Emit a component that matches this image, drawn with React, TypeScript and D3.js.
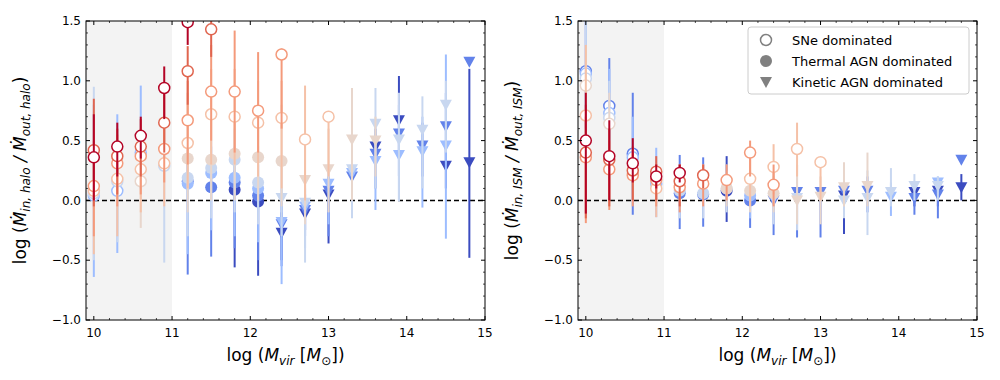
import React from "react";
import * as d3 from "d3";

// colour of each series, blue (index 0) to red (index 8), coolwarm-like
const seriesColors = ["#3b4cc0", "#6282ea", "#9dbdff", "#c8d7f0", "#e8d6cc", "#f5c1a7", "#f49a7b", "#e0654f", "#b40426"];

// [series, log Mvir, y, err low, err high, regime]  o = SNe, f = thermal AGN, v = kinetic AGN
type Pt = [number, number, number, number, number, string];

const haloPoints: Pt[] = [
  [5, 10.0, 0.08, -0.45, 0.45, "o"], [3, 10.0, 0.06, -0.5, 0.95, "o"], [2, 10.0, 0.04, -0.64, 0.8, "o"],
  [6, 10.0, 0.12, -0.3, 0.5, "o"], [7, 10.0, 0.42, -0.05, 0.85, "o"], [8, 10.0, 0.36, 0.0, 0.72, "o"],
  [2, 10.3, 0.08, -0.44, 0.72, "o"], [3, 10.3, 0.16, -0.35, 0.6, "o"], [5, 10.3, 0.18, -0.3, 0.5, "o"],
  [6, 10.3, 0.31, -0.05, 0.55, "o"], [7, 10.3, 0.37, 0.05, 0.6, "o"], [8, 10.3, 0.45, 0.2, 0.65, "o"],
  [2, 10.6, 0.4, 0.1, 0.96, "o"], [4, 10.6, 0.16, -0.23, 0.55, "o"], [5, 10.6, 0.26, -0.1, 0.5, "o"],
  [6, 10.6, 0.37, 0.05, 0.6, "o"], [7, 10.6, 0.45, 0.2, 0.68, "o"], [8, 10.6, 0.54, 0.35, 0.7, "o"],
  [3, 10.9, 0.29, -0.52, 0.6, "o"], [5, 10.9, 0.31, -0.05, 0.6, "o"], [6, 10.9, 0.43, 0.15, 0.7, "o"],
  [7, 10.9, 0.65, 0.4, 0.9, "o"], [8, 10.9, 0.94, 0.68, 1.12, "o"],
  [1, 11.2, 0.16, -0.62, 0.3, "f"], [2, 11.2, 0.14, -0.45, 0.4, "f"], [3, 11.2, 0.19, -0.3, 0.5, "f"],
  [4, 11.2, 0.35, -0.1, 0.8, "f"], [5, 11.2, 0.48, 0.1, 0.9, "o"], [6, 11.2, 0.67, 0.3, 1.0, "o"],
  [7, 11.2, 1.08, 0.8, 1.29, "o"], [8, 11.2, 1.49, 1.3, 1.6, "o"],
  [1, 11.5, 0.11, -0.47, 0.3, "f"], [2, 11.5, 0.23, -0.25, 0.45, "f"], [3, 11.5, 0.27, -0.15, 0.5, "f"],
  [4, 11.5, 0.34, 0.0, 0.7, "f"], [5, 11.5, 0.72, 0.3, 1.1, "o"], [6, 11.5, 0.91, 0.5, 1.3, "o"],
  [7, 11.5, 1.43, 1.2, 1.6, "o"],
  [0, 11.8, 0.09, -0.56, 0.25, "f"], [1, 11.8, 0.15, -0.4, 0.35, "f"], [2, 11.8, 0.19, -0.3, 0.45, "f"],
  [3, 11.8, 0.34, -0.1, 0.6, "f"], [4, 11.8, 0.39, 0.0, 0.7, "f"], [5, 11.8, 0.7, 0.3, 1.1, "o"],
  [6, 11.8, 0.91, 0.4, 1.42, "o"],
  [0, 12.1, -0.01, -0.63, 0.1, "f"], [1, 12.1, 0.04, -0.5, 0.2, "f"], [2, 12.1, 0.1, -0.35, 0.3, "f"],
  [3, 12.1, 0.15, -0.2, 0.45, "f"], [4, 12.1, 0.36, 0.0, 0.7, "f"], [5, 12.1, 0.65, 0.2, 1.0, "o"],
  [6, 12.1, 0.75, 0.4, 1.24, "o"],
  [0, 12.4, -0.27, -0.5, -0.1, "v"], [1, 12.4, -0.2, -0.55, 0.05, "v"], [2, 12.4, -0.18, -0.7, 0.1, "v"],
  [3, 12.4, 0.02, -0.3, 0.3, "v"], [4, 12.4, 0.33, -0.05, 0.8, "f"], [5, 12.4, 0.69, 0.1, 1.0, "o"],
  [6, 12.4, 1.22, 0.6, 1.27, "o"],
  [0, 12.7, -0.11, -0.25, 0.0, "v"], [1, 12.7, -0.08, -0.3, 0.05, "v"], [2, 12.7, -0.05, -0.4, 0.1, "v"],
  [3, 12.7, -0.02, -0.52, 0.2, "v"], [4, 12.7, 0.17, -0.2, 0.5, "v"], [5, 12.7, 0.51, 0.0, 0.96, "o"],
  [0, 13.0, 0.05, -0.36, 0.15, "v"], [1, 13.0, 0.08, -0.3, 0.2, "v"], [2, 13.0, 0.14, -0.2, 0.3, "v"],
  [4, 13.0, 0.26, -0.1, 0.6, "v"], [5, 13.0, 0.7, 0.2, 0.72, "o"],
  [1, 13.3, 0.2, -0.12, 0.35, "v"], [2, 13.3, 0.23, -0.1, 0.4, "v"], [3, 13.3, 0.26, -0.15, 0.5, "v"],
  [4, 13.3, 0.51, 0.0, 0.94, "v"],
  [0, 13.6, 0.45, 0.3, 0.6, "v"], [1, 13.6, 0.39, 0.1, 0.55, "v"], [2, 13.6, 0.33, -0.08, 0.6, "v"],
  [3, 13.6, 0.64, 0.1, 0.94, "v"], [4, 13.6, 0.5, 0.2, 0.7, "v"],
  [0, 13.9, 0.67, 0.4, 1.04, "v"], [1, 13.9, 0.56, 0.2, 0.8, "v"], [2, 13.9, 0.38, 0.0, 0.7, "v"],
  [3, 13.9, 0.51, -0.01, 0.9, "v"],
  [1, 14.2, 0.46, 0.2, 0.65, "v"], [2, 14.2, 0.41, -0.06, 0.7, "v"], [3, 14.2, 0.59, 0.1, 0.87, "v"],
  [0, 14.5, 0.29, 0.1, 0.5, "v"], [1, 14.5, 0.62, 0.3, 0.9, "v"], [2, 14.5, 0.46, -0.32, 1.22, "v"],
  [3, 14.5, 0.8, 0.4, 1.0, "v"],
  [0, 14.8, 0.32, -0.48, 1.1, "v"], [1, 14.8, 1.16, 1.16, 1.16, "v"],
];

const ismPoints: Pt[] = [
  [1, 10.0, 1.08, 0.6, 1.5, "o"], [2, 10.0, 1.06, 0.5, 1.5, "o"], [3, 10.0, 1.02, 0.4, 1.6, "o"],
  [4, 10.0, 0.96, 0.3, 1.3, "o"], [5, 10.0, 0.71, 0.0, 1.3, "o"], [6, 10.0, 0.36, -0.19, 0.7, "o"],
  [7, 10.0, 0.4, -0.15, 0.8, "o"], [8, 10.0, 0.5, -0.11, 0.9, "o"],
  [1, 10.3, 0.79, 0.5, 1.19, "o"], [2, 10.3, 0.73, 0.4, 1.1, "o"], [3, 10.3, 0.69, 0.3, 1.0, "o"],
  [4, 10.3, 0.64, 0.3, 0.9, "o"], [6, 10.3, 0.26, -0.08, 0.5, "o"], [7, 10.3, 0.34, -0.05, 0.6, "o"],
  [8, 10.3, 0.37, 0.0, 0.67, "o"],
  [1, 10.6, 0.39, -0.12, 0.9, "o"], [2, 10.6, 0.36, 0.0, 0.7, "o"], [6, 10.6, 0.21, -0.05, 0.4, "o"],
  [7, 10.6, 0.25, 0.0, 0.45, "o"], [8, 10.6, 0.31, 0.15, 0.52, "o"],
  [2, 10.9, 0.14, -0.14, 0.44, "o"], [5, 10.9, 0.1, -0.14, 0.3, "o"], [6, 10.9, 0.17, -0.05, 0.3, "o"],
  [7, 10.9, 0.24, 0.0, 0.37, "o"], [8, 10.9, 0.2, 0.1, 0.3, "o"],
  [1, 11.2, 0.06, -0.24, 0.38, "f"], [3, 11.2, 0.08, -0.15, 0.3, "f"], [6, 11.2, 0.11, -0.1, 0.3, "o"],
  [7, 11.2, 0.16, -0.05, 0.3, "o"], [8, 11.2, 0.23, 0.15, 0.3, "o"],
  [1, 11.5, 0.05, -0.22, 0.36, "f"], [3, 11.5, 0.06, -0.15, 0.3, "f"], [6, 11.5, 0.14, -0.05, 0.3, "o"],
  [7, 11.5, 0.21, 0.1, 0.3, "o"],
  [0, 11.8, 0.08, -0.18, 0.37, "f"], [3, 11.8, 0.1, -0.1, 0.3, "f"], [4, 11.8, 0.1, -0.05, 0.25, "f"],
  [6, 11.8, 0.17, 0.0, 0.3, "o"],
  [1, 12.1, 0.0, -0.23, 0.2, "f"], [2, 12.1, 0.04, -0.15, 0.2, "f"], [4, 12.1, 0.08, -0.1, 0.25, "f"],
  [5, 12.1, 0.18, -0.05, 0.35, "o"], [6, 12.1, 0.4, 0.2, 0.5, "o"],
  [1, 12.4, 0.0, -0.29, 0.15, "v"], [3, 12.4, 0.02, -0.2, 0.2, "v"], [4, 12.4, 0.06, -0.1, 0.25, "f"],
  [5, 12.4, 0.28, 0.05, 0.47, "o"], [6, 12.4, 0.13, -0.05, 0.3, "o"],
  [1, 12.7, 0.07, -0.31, 0.1, "v"], [3, 12.7, 0.02, -0.25, 0.3, "v"], [4, 12.7, 0.0, -0.2, 0.3, "v"],
  [5, 12.7, 0.43, 0.2, 0.65, "o"],
  [1, 13.0, 0.07, -0.31, 0.1, "v"], [4, 13.0, 0.03, -0.2, 0.2, "v"], [5, 13.0, 0.32, 0.0, 0.35, "o"],
  [0, 13.3, 0.04, -0.28, 0.15, "v"], [1, 13.3, 0.08, -0.1, 0.2, "v"], [3, 13.3, 0.0, -0.15, 0.25, "v"],
  [4, 13.3, 0.11, -0.05, 0.32, "v"],
  [1, 13.6, 0.08, -0.1, 0.2, "v"], [3, 13.6, 0.02, -0.29, 0.25, "v"], [4, 13.6, 0.12, -0.05, 0.4, "v"],
  [2, 13.9, 0.03, -0.13, 0.15, "v"], [3, 13.9, 0.07, -0.05, 0.27, "v"],
  [0, 14.2, 0.07, -0.05, 0.15, "v"], [1, 14.2, 0.02, -0.12, 0.15, "v"], [3, 14.2, 0.12, 0.0, 0.22, "v"],
  [0, 14.5, 0.08, -0.05, 0.15, "v"], [1, 14.5, 0.05, -0.15, 0.15, "v"], [2, 14.5, 0.15, 0.05, 0.2, "v"],
  [3, 14.5, 0.12, 0.0, 0.2, "v"],
  [0, 14.8, 0.11, 0.0, 0.22, "v"], [1, 14.8, 0.34, 0.34, 0.34, "v"],
];

const xTicks = [10, 11, 12, 13, 14, 15];
const yTicks = [-1, -0.5, 0, 0.5, 1, 1.5];
const legendLabels = ["SNe dominated", "Thermal AGN dominated", "Kinetic AGN dominated"];
const legendMarkers = ["o", "f", "v"];

const FONT = "DejaVu Sans, sans-serif";
const fmtY = (v: number) => (v < 0 ? "\u2212" : "") + Math.abs(v).toFixed(1);

function Marker({ kind, x, y, color }: { kind: string; x: number; y: number; color: string }) {
  if (kind === "o")
    return <circle cx={x} cy={y} r={5.5} fill="white" stroke={color} strokeWidth={1.5} />;
  if (kind === "f") return <circle cx={x} cy={y} r={6} fill={color} />;
  return <path d={`M${x - 6},${y - 5}L${x + 6},${y - 5}L${x},${y + 6}Z`} fill={color} />;
}

function Panel({ id, left, points, sub, legend }: { id: string; left: number; points: Pt[]; sub: string; legend?: boolean }) {
  const width = 399, top = 21, height = 299;
  const x = d3.scaleLinear().domain([9.9, 15]).range([0, width]);
  const y = d3.scaleLinear().domain([-1, 1.5]).range([height, 0]);
  const xMinor = d3.range(10, 15.01, 0.2).filter((v) => Math.abs(v - Math.round(v)) > 0.01);
  const yMinor = d3.range(-1, 1.51, 0.1).filter((v) => Math.abs(v * 2 - Math.round(v * 2)) > 0.01);
  // draw blue series first, red on top
  const ordered = [...points].sort((a, b) => a[0] - b[0]);

  return (
    <g transform={`translate(${left},${top})`} fontFamily={FONT}>
      <defs>
        <clipPath id={id}><rect width={width} height={height} /></clipPath>
      </defs>
      <rect x={0} y={0} width={x(11)} height={height} fill="#f3f3f3" />
      <line x1={0} x2={width} y1={y(0)} y2={y(0)} stroke="black" strokeWidth={1.5} strokeDasharray="5,3" />
      <g clipPath={`url(#${id})`}>
        {ordered.map((p, i) => {
          const c = seriesColors[p[0]];
          return (
            <g key={i}>
              <line x1={x(p[1])} x2={x(p[1])} y1={y(p[3])} y2={y(p[4])} stroke={c} strokeWidth={2} />
              <Marker kind={p[5]} x={x(p[1])} y={y(p[2])} color={c} />
            </g>
          );
        })}
      </g>
      {/* inward ticks on all four sides */}
      {xTicks.map((t) => (
        <g key={"xt" + t}>
          <line x1={x(t)} x2={x(t)} y1={height} y2={height - 4} stroke="black" />
          <line x1={x(t)} x2={x(t)} y1={0} y2={4} stroke="black" />
          <text x={x(t)} y={height + 17} fontSize={12} textAnchor="middle">{t}</text>
        </g>
      ))}
      {xMinor.map((t) => (
        <g key={"xm" + t}>
          <line x1={x(t)} x2={x(t)} y1={height} y2={height - 2} stroke="black" strokeWidth={0.7} />
          <line x1={x(t)} x2={x(t)} y1={0} y2={2} stroke="black" strokeWidth={0.7} />
        </g>
      ))}
      {yTicks.map((t) => (
        <g key={"yt" + t}>
          <line x1={0} x2={4} y1={y(t)} y2={y(t)} stroke="black" />
          <line x1={width} x2={width - 4} y1={y(t)} y2={y(t)} stroke="black" />
          <text x={-5} y={y(t)} dy="0.35em" fontSize={12} textAnchor="end">{fmtY(t)}</text>
        </g>
      ))}
      {yMinor.map((t) => (
        <g key={"ym" + t.toFixed(1)}>
          <line x1={0} x2={2} y1={y(t)} y2={y(t)} stroke="black" strokeWidth={0.7} />
          <line x1={width} x2={width - 2} y1={y(t)} y2={y(t)} stroke="black" strokeWidth={0.7} />
        </g>
      ))}
      <rect x={0} y={0} width={width} height={height} fill="none" stroke="black" strokeWidth={1} />

      <text x={width / 2} y={height + 41} fontSize={17} textAnchor="middle">
        log (<tspan fontStyle="italic">M</tspan>
        <tspan fontStyle="italic" fontSize={12} dy={4}>vir</tspan>
        <tspan dy={-4}> [</tspan>
        <tspan fontStyle="italic">M</tspan>
        <tspan fontSize={12} dy={4}>{"\u2299"}</tspan>
        <tspan dy={-4}>])</tspan>
      </text>

      <text transform={`translate(${-60},${height / 2}) rotate(-90)`} fontSize={17} textAnchor="middle">
        log (<tspan fontStyle="italic">{"\u1E40"}</tspan>
        <tspan fontStyle="italic" fontSize={12} dy={4}>{`in, ${sub}`}</tspan>
        <tspan dy={-4} fontStyle="italic"> / </tspan>
        <tspan fontStyle="italic">{"\u1E40"}</tspan>
        <tspan fontStyle="italic" fontSize={12} dy={4}>{`out, ${sub}`}</tspan>
        <tspan dy={-4}>)</tspan>
      </text>

      {legend && (
        <g transform={`translate(${width - 229},6)`}>
          <rect x={0} y={0} width={221} height={67} rx={3} fill="white" fillOpacity={0.85} stroke="#cccccc" />
          {legendLabels.map((l, i) => (
            <g key={l}>
              <Marker kind={legendMarkers[i]} x={18} y={13 + i * 21} color="#808080" />
              <text x={44} y={13 + i * 21} dy="0.35em" fontSize={13}>{l}</text>
            </g>
          ))}
        </g>
      )}
    </g>
  );
}

export default function App() {
  return (
    <div style={{ position: "fixed", left: 0, top: 0 }}>
      <svg width={1000} height={380} style={{ display: "block", background: "white" }}>
        <Panel id="clipHalo" left={86} points={haloPoints} sub="halo" />
        <Panel id="clipIsm" left={578} points={ismPoints} sub="ISM" legend />
      </svg>
    </div>
  );
}
